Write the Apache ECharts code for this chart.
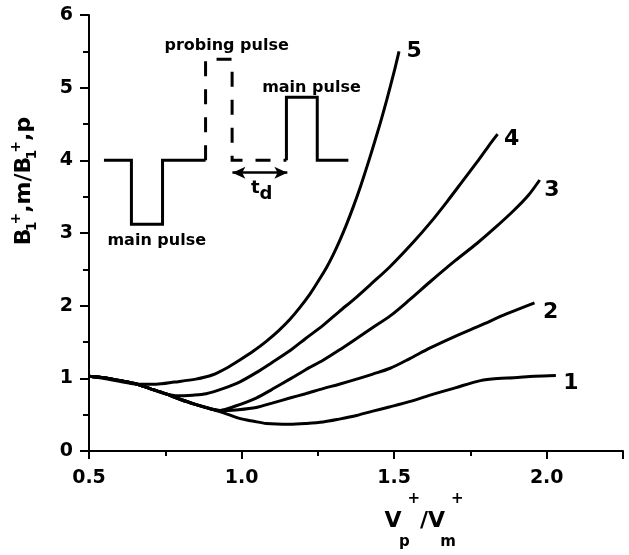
<!DOCTYPE html>
<html><head><meta charset="utf-8">
<script src="https://cdn.jsdelivr.net/npm/echarts@6/dist/echarts.min.js"></script>
<style>html,body{margin:0;padding:0;background:#fff}#c{width:629px;height:555px}</style>
</head><body><div id="c"></div>
<script>
// ---- data ----
const curve1 = [[0.5,1.03],[0.55,1.01],[0.6,0.97],[0.65,0.93],[0.70,0.86],[0.75,0.79],[0.80,0.71],[0.851,0.64],[0.90,0.58],[0.939,0.53],[0.993,0.45],[1.04,0.41],[1.081,0.38],[1.158,0.37],[1.21,0.38],[1.267,0.40],[1.32,0.44],[1.377,0.49],[1.43,0.55],[1.487,0.61],[1.55,0.68],[1.618,0.77],[1.70,0.87],[1.783,0.97],[1.84,1.0],[1.892,1.01],[1.96,1.03],[2.03,1.04]];
const curve2 = [[0.5,1.03],[0.55,1.01],[0.6,0.97],[0.65,0.93],[0.70,0.86],[0.75,0.79],[0.80,0.71],[0.851,0.64],[0.90,0.58],[0.93,0.555],[0.99,0.57],[1.048,0.60],[1.10,0.66],[1.158,0.73],[1.21,0.79],[1.267,0.86],[1.32,0.92],[1.377,0.99],[1.43,1.06],[1.487,1.14],[1.55,1.27],[1.618,1.42],[1.70,1.58],[1.783,1.73],[1.87,1.89],[1.96,2.04]];
const curve3 = [[0.5,1.03],[0.55,1.01],[0.6,0.97],[0.65,0.93],[0.70,0.86],[0.75,0.79],[0.80,0.71],[0.851,0.64],[0.90,0.58],[0.93,0.56],[0.98,0.62],[1.048,0.73],[1.10,0.85],[1.158,0.99],[1.21,1.12],[1.267,1.25],[1.32,1.39],[1.377,1.55],[1.43,1.70],[1.487,1.86],[1.55,2.08],[1.618,2.33],[1.70,2.62],[1.772,2.86],[1.83,3.07],[1.892,3.31],[1.94,3.52],[1.977,3.73]];
const curve4 = [[0.5,1.03],[0.55,1.01],[0.6,0.97],[0.65,0.93],[0.70,0.86],[0.75,0.79],[0.79,0.76],[0.84,0.77],[0.884,0.79],[0.939,0.86],[0.993,0.95],[1.048,1.08],[1.10,1.22],[1.158,1.38],[1.21,1.55],[1.267,1.73],[1.32,1.92],[1.377,2.12],[1.43,2.32],[1.487,2.54],[1.564,2.88],[1.62,3.15],[1.673,3.43],[1.72,3.69],[1.772,3.98],[1.81,4.2],[1.839,4.36]];
const curve5 = [[0.5,1.03],[0.55,1.0],[0.6,0.96],[0.66,0.92],[0.72,0.92],[0.78,0.95],[0.85,0.99],[0.906,1.05],[0.95,1.14],[0.993,1.25],[1.04,1.38],[1.081,1.51],[1.12,1.65],[1.158,1.81],[1.19,1.97],[1.224,2.16],[1.25,2.33],[1.279,2.53],[1.30,2.70],[1.322,2.90],[1.344,3.12],[1.366,3.36],[1.39,3.645],[1.42,4.035],[1.454,4.505],[1.476,4.835],[1.50,5.22],[1.516,5.5]];
const curveNames = ['1','2','3','4','5'];
const xTickLabels = ['0.5','1.0','1.5','2.0'];
const yTickLabels = ['0','1','2','3','4','5','6'];
// inset schematic (data coordinates)
const insetMainLow = [[0.549,4],[0.639,4],[0.639,3.12],[0.741,3.12],[0.741,4],[0.882,4]];
const insetProbe = [[0.882,4],[0.882,5.39],[0.969,5.39],[0.969,4],[1.147,4]];
const insetMainHigh = [[1.147,4],[1.147,4.87],[1.248,4.87],[1.248,4],[1.35,4]];
const delayArrow = [[0.97,3.83],[1.15,3.83]];
const insetTextLabels = ['probing pulse','main pulse','main pulse','{t|t}{d|d}'];
const insetTextAnchors = [[0.951,5.57],[1.229,5.0],[0.722,2.89],[1.066,3.61]];

// ---- styles ----
const FONT = '"DejaVu Sans", sans-serif';
const BLACK = '#000';
const endLabelOffsets = {'1':[7,8],'2':[8,9],'3':[4,10],'4':[6,5],'5':[7,0]};
const bold = (size, extra) => Object.assign({fontSize: size, fontWeight: 'bold', fontFamily: FONT, color: BLACK}, extra || {});

const curves = [curve1, curve2, curve3, curve4, curve5];
const series = curves.map((c, i) => ({
  type: 'line', name: curveNames[i], data: c, showSymbol: false, symbol: 'none',
  smooth: 0.3, lineStyle: {color: BLACK, width: 3}, silent: true, z: 3,
  markPoint: {
    symbol: 'circle', symbolSize: 1, itemStyle: {color: 'rgba(0,0,0,0)'}, silent: true,
    label: bold(22, {show: true, position: 'right', distance: 0, offset: endLabelOffsets[curveNames[i]],
      formatter: curveNames[i]}),
    data: [{coord: c[c.length - 1]}]
  }
}));

const insetLine = (d, dashed) => ({
  type: 'line', data: d, showSymbol: false, symbol: 'none', silent: true,
  lineStyle: {color: BLACK, width: 3, type: dashed ? [15, 13] : 'solid', cap: 'butt', join: 'miter'}
});
series.push(insetLine(insetMainLow, false));
const probe = insetLine(insetProbe, true);
probe.markLine = {
  silent: true, symbol: ['arrow', 'arrow'], symbolSize: [9, 13],
  label: {show: false}, lineStyle: {color: BLACK, width: 2.5, type: 'solid'},
  data: [[{coord: delayArrow[0]}, {coord: delayArrow[1]}]]
};
series.push(probe);
const high = insetLine(insetMainHigh, false);
high.markPoint = {
  symbol: 'circle', symbolSize: 1, itemStyle: {color: 'rgba(0,0,0,0)'}, silent: true,
  label: bold(16, {show: true, position: 'inside', formatter: p => p.name,
    rich: {t: bold(18, {lineHeight: 30}), d: bold(18, {verticalAlign: 'bottom', lineHeight: 14})}}),
  data: insetTextLabels.map((t, i) => ({name: t, coord: insetTextAnchors[i]}))
};
series.push(high);

const tickFmt = (labels) => (v) => {
  const m = labels.find(s => Math.abs(parseFloat(s) - v) < 1e-6);
  return m === undefined ? '' : m;
};

const chart = echarts.init(document.getElementById('c'), null, {renderer: 'canvas'});
chart.setOption({
  animation: false,
  backgroundColor: '#fff',
  grid: {left: 89, right: 6, top: 15, bottom: 79, containLabel: false},
  xAxis: [{
    type: 'value', min: 0.5, max: 2.25, interval: 0.25,
    axisLine: {show: true, onZero: false, lineStyle: {color: BLACK, width: 2}},
    axisTick: {show: true, length: 5, lineStyle: {color: BLACK, width: 2}},
    axisLabel: bold(19, {formatter: tickFmt(xTickLabels), margin: 17, showMaxLabel: false}),
    splitLine: {show: false},
    name: '{v|V}{sub|p}{sup|+}{v|/V}{sub|m}{sup|+}',
    nameLocation: 'middle', nameGap: 32,
    nameTextStyle: {padding: [0, 0, 0, 136], rich: {
      v: bold(22, {lineHeight: 58}),
      sub: bold(15, {verticalAlign: 'bottom', lineHeight: 20, width: 6}),
      sup: bold(15, {verticalAlign: 'top', lineHeight: 6})
    }}
  }, {
    type: 'value', min: 0.5, max: 2.25, interval: 0.5, position: 'bottom',
    axisLine: {show: false}, axisLabel: {show: false}, splitLine: {show: false},
    axisTick: {show: true, length: 8, lineStyle: {color: BLACK, width: 2}}
  }],
  yAxis: {
    type: 'value', min: 0, max: 6, interval: 1,
    axisLine: {show: true, onZero: false, lineStyle: {color: BLACK, width: 2}},
    axisTick: {show: true, length: 9, lineStyle: {color: BLACK, width: 2}},
    minorTick: {show: true, splitNumber: 2, length: 6, lineStyle: {color: BLACK, width: 2}},
    axisLabel: bold(19, {formatter: tickFmt(yTickLabels), margin: 16}),
    splitLine: {show: false},
    name: '{b|B}{sub|1}{sup|+}{b|,m/B}{sub|1}{sup|+}{b|,p}',
    nameLocation: 'middle', nameGap: 50, nameRotate: 90,
    nameTextStyle: {padding: [0, 0, 0, 104], rich: {
      b: bold(22, {lineHeight: 30}),
      sub: bold(14, {verticalAlign: 'bottom', lineHeight: 15, width: 4}),
      sup: bold(14, {verticalAlign: 'top', lineHeight: 15})
    }}
  },
  series: series
});
</script>
</body></html>
